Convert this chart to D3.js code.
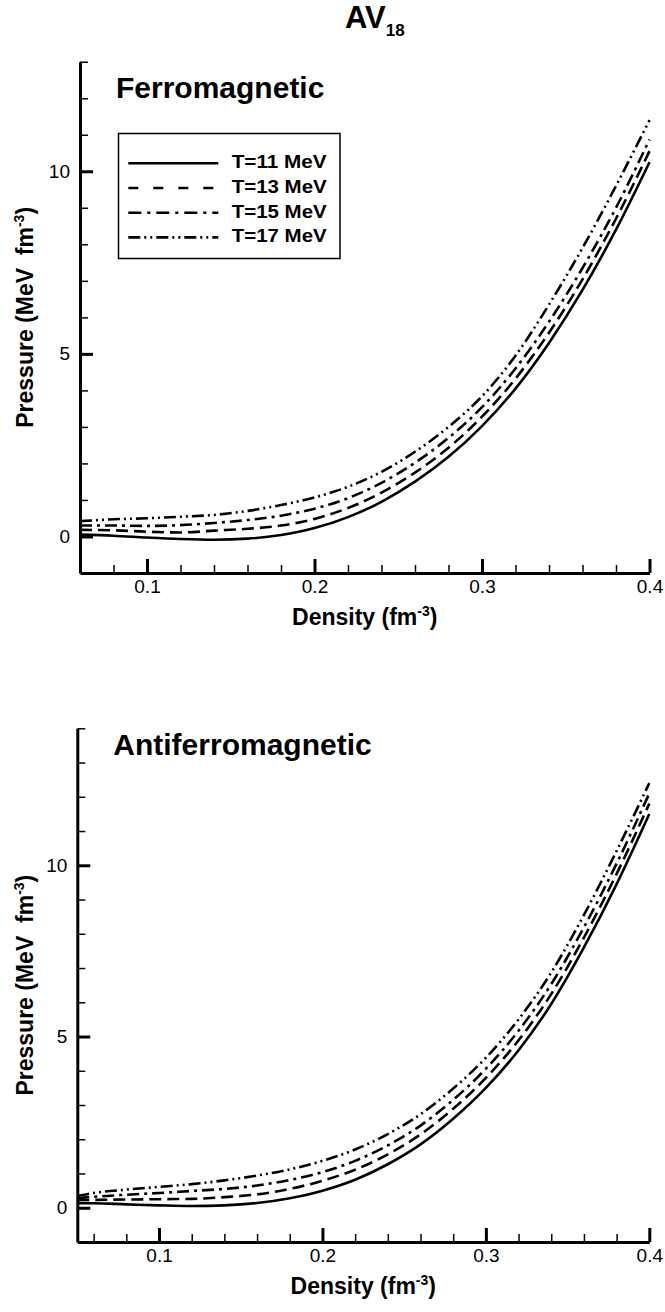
<!DOCTYPE html>
<html>
<head>
<meta charset="utf-8">
<script src="https://cdn.jsdelivr.net/npm/d3@7"></script>
<style>
  body { margin: 0; background: #fff; }
  svg text { font-family: Arial, "Liberation Sans", Helvetica, sans-serif; fill: #000; }
</style>
</head>
<body>
<div id="chart"></div>
<script>
// ---- data ----
var seriesLabels = ["T=11 MeV", "T=13 MeV", "T=15 MeV", "T=17 MeV"];

// ferromagnetic panel
var ferroDensity = [0.06, 0.08, 0.10, 0.12, 0.14, 0.16, 0.18, 0.20, 0.22, 0.24, 0.26, 0.28, 0.30, 0.32, 0.34, 0.36, 0.38, 0.40];
var ferroT11 = [0.05, 0.02, -0.03, -0.07, -0.09, -0.06, 0.04, 0.23, 0.53, 0.95, 1.50, 2.18, 3.02, 4.05, 5.30, 6.75, 8.40, 10.25];
var ferroT13 = [0.18, 0.17, 0.13, 0.11, 0.16, 0.21, 0.30, 0.48, 0.78, 1.20, 1.75, 2.43, 3.28, 4.32, 5.58, 7.04, 8.70, 10.55];
var ferroT15 = [0.30, 0.30, 0.29, 0.31, 0.37, 0.45, 0.57, 0.76, 1.05, 1.47, 2.02, 2.70, 3.54, 4.60, 5.88, 7.35, 9.00, 10.87];
var ferroT17 = [0.42, 0.47, 0.50, 0.54, 0.59, 0.70, 0.86, 1.07, 1.36, 1.77, 2.32, 3.00, 3.84, 4.95, 6.35, 7.90, 9.60, 11.40];

// antiferromagnetic panel
var antiDensity = [0.05, 0.06, 0.08, 0.10, 0.12, 0.14, 0.16, 0.18, 0.20, 0.22, 0.24, 0.26, 0.28, 0.30, 0.32, 0.34, 0.36, 0.38, 0.40];
var antiT11 = [0.13, 0.13, 0.10, 0.07, 0.05, 0.07, 0.14, 0.28, 0.50, 0.82, 1.27, 1.85, 2.60, 3.50, 4.60, 5.95, 7.60, 9.45, 11.50];
var antiT13 = [0.22, 0.23, 0.24, 0.25, 0.26, 0.31, 0.39, 0.55, 0.79, 1.11, 1.56, 2.14, 2.89, 3.79, 4.89, 6.24, 7.89, 9.75, 11.80];
var antiT15 = [0.28, 0.32, 0.38, 0.43, 0.49, 0.55, 0.65, 0.81, 1.04, 1.37, 1.82, 2.40, 3.15, 4.06, 5.17, 6.53, 8.19, 10.05, 12.10];
var antiT17 = [0.34, 0.43, 0.53, 0.61, 0.69, 0.80, 0.94, 1.12, 1.37, 1.70, 2.15, 2.73, 3.48, 4.38, 5.50, 6.87, 8.55, 10.42, 12.40];

var xTickLabels = [0.1, 0.2, 0.3, 0.4];
var yTickLabels = [0, 5, 10];

// ---- drawing ----
var width = 665, height = 1312;
var dashes = [null, "12,6", "12,5,3,5", "12,4,2,4,2,4"];
var legendDashes = [null, "10,15", "13,6,3,6", "12,4,2,4,2,4"];

var svg = d3.select("#chart").append("svg")
    .attr("width", width)
    .attr("height", height);

// title AV18
var title = svg.append("text")
    .attr("x", 345)
    .attr("y", 28)
    .style("font-weight", "bold")
    .style("font-size", "31px");
title.append("tspan").text("AV");
title.append("tspan").attr("dy", 8).style("font-size", "17px").text("18");

function drawPanel(p) {
  var x = d3.scaleLinear().domain(p.xDomain).range([p.left, p.right]);
  var y = d3.scaleLinear().domain(p.yDomain).range([p.bottom, p.top]);
  var g = svg.append("g");

  // minor ticks
  var minorX = d3.range(Math.round(p.xDomain[0] * 50), Math.round(p.xDomain[1] * 50) + 1).map(function(i) { return i / 50; });
  var minorY = d3.range(p.yDomain[0] + 1, p.yDomain[1] + 1);

  g.append("g")
      .attr("transform", "translate(0," + p.bottom + ")")
      .call(d3.axisBottom(x).tickValues(minorX).tickSize(-8).tickSizeOuter(0).tickFormat(""))
      .call(function(a) { a.select(".domain").remove(); a.selectAll("line").attr("stroke-width", 1.5); });
  g.append("g")
      .attr("transform", "translate(" + p.left + ",0)")
      .call(d3.axisLeft(y).tickValues(minorY).tickSize(-8).tickSizeOuter(0).tickFormat(""))
      .call(function(a) { a.select(".domain").remove(); a.selectAll("line").attr("stroke-width", 1.5); });

  // major ticks + labels
  var xAxis = g.append("g")
      .attr("transform", "translate(0," + p.bottom + ")")
      .call(d3.axisBottom(x).tickValues(xTickLabels).tickSize(-14).tickSizeOuter(0).tickPadding(7).tickFormat(d3.format(".1f")));
  var yAxis = g.append("g")
      .attr("transform", "translate(" + p.left + ",0)")
      .call(d3.axisLeft(y).tickValues(yTickLabels).tickSize(-13).tickSizeOuter(0).tickPadding(10));
  [xAxis, yAxis].forEach(function(a) {
    a.select(".domain").attr("stroke-width", 3);
    a.selectAll("line").attr("stroke-width", 3);
    a.selectAll("text").style("font-size", "19px").attr("font-family", null);
  });

  // curves
  var line = d3.line()
      .curve(d3.curveMonotoneX)
      .x(function(d) { return x(d[0]); })
      .y(function(d) { return y(d[1]); });
  p.series.forEach(function(vals, i) {
    g.append("path")
        .datum(p.density.map(function(d, j) { return [d, vals[j]]; }))
        .attr("fill", "none")
        .attr("stroke", "#000")
        .attr("stroke-width", 2.6)
        .attr("stroke-dasharray", dashes[i])
        .attr("d", line);
  });

  // panel title
  g.append("text")
      .attr("x", p.left + 36)
      .attr("y", p.titleY)
      .style("font-weight", "bold")
      .style("font-size", "30px")
      .text(p.name);

  // axis titles
  var cx = (p.left + p.right) / 2;
  var xl = g.append("text")
      .attr("x", cx)
      .attr("y", p.bottom + 52)
      .attr("text-anchor", "middle")
      .style("font-weight", "bold")
      .style("font-size", "23px");
  xl.append("tspan").text("Density (fm");
  xl.append("tspan").attr("dy", -9).style("font-size", "14px").text("-3");
  xl.append("tspan").attr("dy", 9).text(")");

  var cy = (p.top + p.bottom) / 2;
  var yl = g.append("text")
      .attr("transform", "translate(33," + cy + ") rotate(-90)")
      .attr("text-anchor", "middle")
      .style("font-weight", "bold")
      .style("font-size", "23px")
      .style("white-space", "pre");
  yl.append("tspan").text("Pressure (MeV  fm");
  yl.append("tspan").attr("dy", -9).style("font-size", "14px").text("-3");
  yl.append("tspan").attr("dy", 9).text(")");

  return g;
}

drawPanel({
  name: "Ferromagnetic",
  xDomain: [0.06, 0.4], yDomain: [-1, 13],
  left: 80, right: 649.5, top: 61.7, bottom: 573,
  titleY: 98,
  density: ferroDensity,
  series: [ferroT11, ferroT13, ferroT15, ferroT17]
});

drawPanel({
  name: "Antiferromagnetic",
  xDomain: [0.05, 0.4], yDomain: [-1, 14],
  left: 77.3, right: 649.3, top: 728.3, bottom: 1242,
  titleY: 755,
  density: antiDensity,
  series: [antiT11, antiT13, antiT15, antiT17]
});

// legend (top panel only)
var legend = svg.append("g");
legend.append("rect")
    .attr("x", 118.5).attr("y", 133.5)
    .attr("width", 221.5).attr("height", 125)
    .attr("fill", "#fff")
    .attr("stroke", "#000")
    .attr("stroke-width", 1.5);
seriesLabels.forEach(function(lbl, i) {
  var ly = 163.3 + i * 24.7;
  legend.append("line")
      .attr("x1", 128.3).attr("x2", 218.3)
      .attr("y1", ly).attr("y2", ly)
      .attr("stroke", "#000")
      .attr("stroke-width", 2.6)
      .attr("stroke-dasharray", legendDashes[i]);
  legend.append("text")
      .attr("x", 231.7)
      .attr("y", ly + 5)
      .attr("textLength", 95)
      .attr("lengthAdjust", "spacingAndGlyphs")
      .style("font-weight", "bold")
      .style("font-size", "19px")
      .text(lbl);
});
</script>
</body>
</html>
